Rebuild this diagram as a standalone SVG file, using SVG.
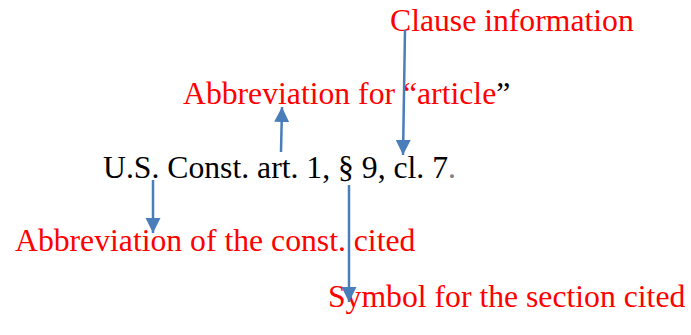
<svg xmlns="http://www.w3.org/2000/svg" width="691" height="335" viewBox="0 0 691 335">
<defs>
<style>
text{font-family:"Liberation Serif","Times New Roman",serif;font-size:31.7px}
.lbl{fill:#FF0000}
.main{fill:#000}
.conn line{stroke:#4A7EBB;stroke-width:2.5}
</style>
<marker id="ah" viewBox="0 0 10 10" refX="10" refY="5" markerUnits="userSpaceOnUse" markerWidth="15" markerHeight="16" orient="auto">
<path d="M0,0 L10,5 L0,10 z" fill="#4A7EBB"/>
</marker>
</defs>
<rect width="691" height="335" fill="#fff"/>
<g id="citation"><text class="main" x="103" y="178">U.S. Const. art. 1, § 9, cl. 7<tspan fill="#7F7F7F">.</tspan></text></g>
<g id="clause"><text class="lbl" x="390" y="31">Clause information</text></g>
<g id="article"><text class="lbl" x="183" y="104">Abbreviation for “article<tspan fill="#000">”</tspan></text></g>
<g id="constabbr"><text class="lbl" x="15" y="251">Abbreviation of the const. cited</text></g>
<g id="section"><text class="lbl" x="328" y="307">Symbol for the section cited</text></g>
<g class="conn" id="connectors">
<line x1="405" y1="30" x2="403" y2="155" marker-end="url(#ah)"/>
<line x1="281" y1="152" x2="282" y2="107" marker-end="url(#ah)"/>
<line x1="153" y1="180" x2="153" y2="233" marker-end="url(#ah)"/>
<line x1="349" y1="185" x2="349" y2="302" marker-end="url(#ah)"/>
</g>
</svg>
